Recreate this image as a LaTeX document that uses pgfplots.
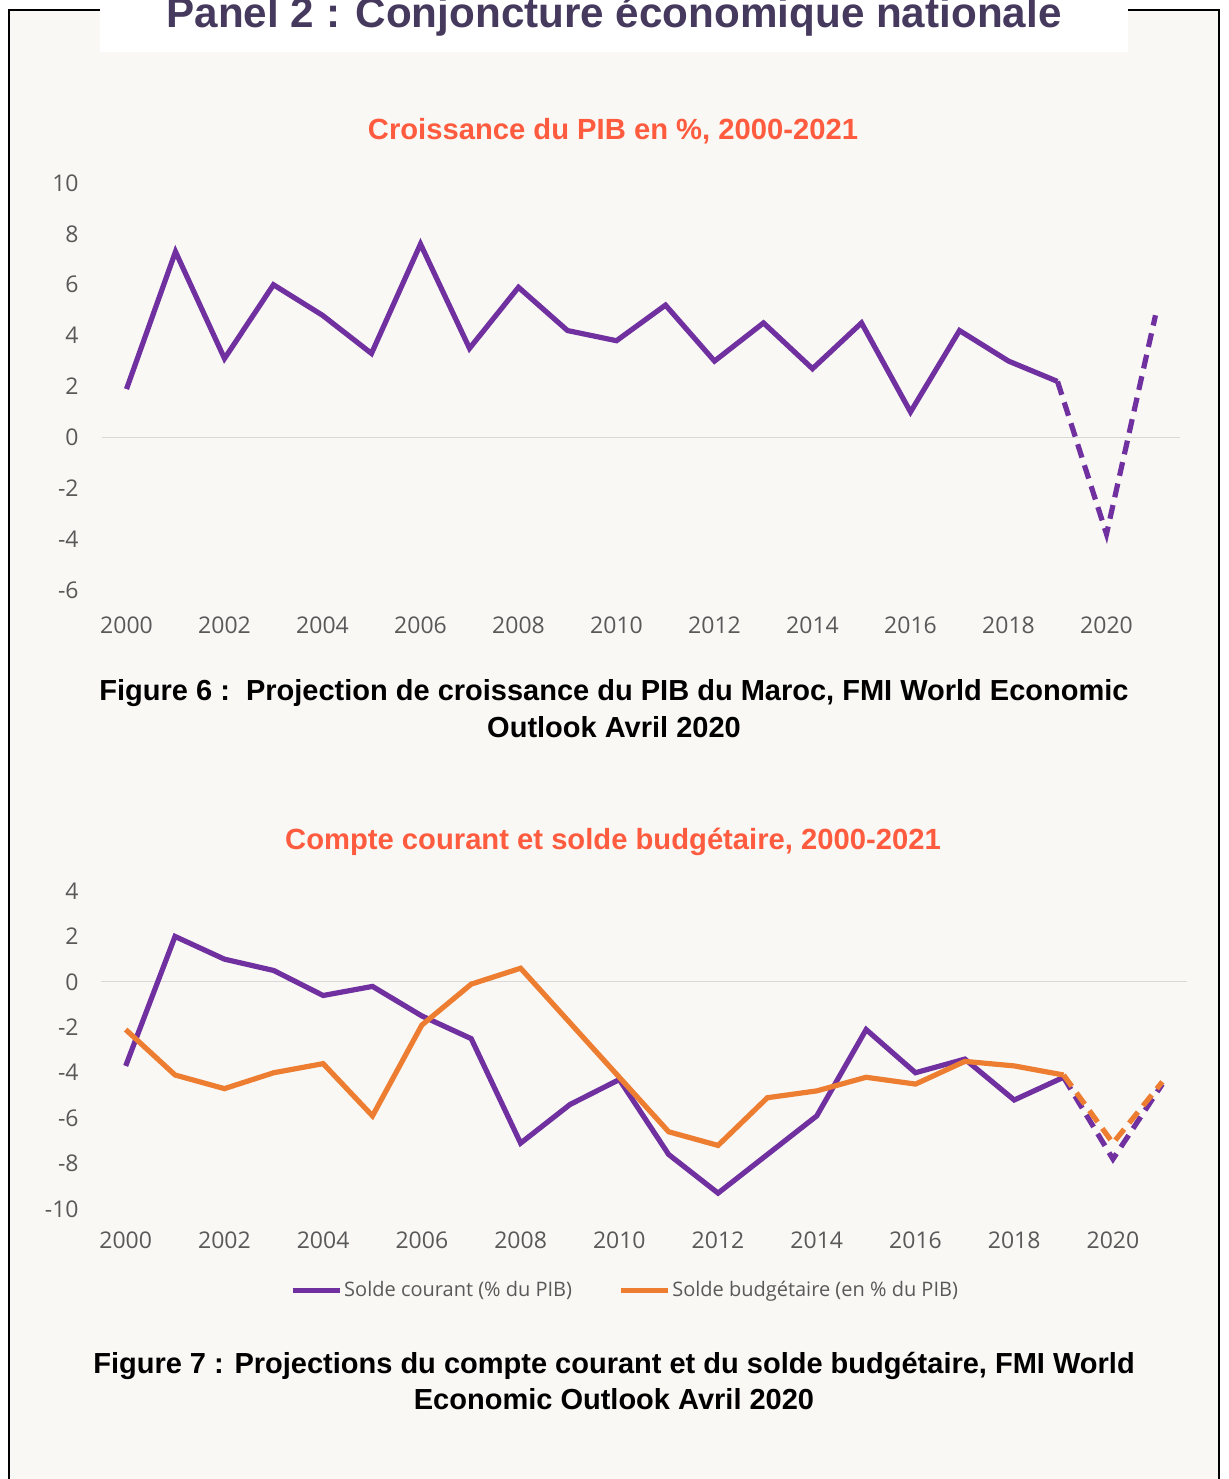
\documentclass[border=0pt]{standalone}
\usepackage{pgfplots}
\pgfplotsset{compat=1.18}
\usepackage{fontspec}
\setmainfont{Open Sans}
\newfontfamily\arialb{Liberation Sans}[BoldFont={Liberation Sans Bold}]
\definecolor{cpurple}{HTML}{7030A0}
\definecolor{corange}{HTML}{ED7D31}
\definecolor{ccoral}{HTML}{FF5B3F}
\definecolor{ctitle}{HTML}{46395E}
\definecolor{ctick}{HTML}{595959}
\definecolor{cbg}{HTML}{F9F8F5}
\definecolor{czero}{HTML}{D9D9D9}
\pgfplotstableread{
year gdp
2000 1.9
2001 7.3
2002 3.1
2003 6.0
2004 4.8
2005 3.3
2006 7.6
2007 3.5
2008 5.9
2009 4.2
2010 3.8
2011 5.2
2012 3.0
2013 4.5
2014 2.7
2015 4.5
2016 1.0
2017 4.2
2018 3.0
2019 2.2
}\gdpobs
\pgfplotstableread{
year gdp
2019 2.2
2020 -3.8
2021 4.8
}\gdpproj
\pgfplotstableread{
year cc bud
2000 -3.7 -2.1
2001 2.0 -4.1
2002 1.0 -4.7
2003 0.5 -4.0
2004 -0.6 -3.6
2005 -0.2 -5.9
2006 -1.5 -1.9
2007 -2.5 -0.1
2008 -7.1 0.6
2009 -5.4 -1.8
2010 -4.3 -4.2
2011 -7.6 -6.6
2012 -9.3 -7.2
2013 -7.6 -5.1
2014 -5.9 -4.8
2015 -2.1 -4.2
2016 -4.0 -4.5
2017 -3.4 -3.5
2018 -5.2 -3.7
2019 -4.2 -4.1
}\balobs
\pgfplotstableread{
year cc bud
2019 -4.2 -4.1
2020 -7.8 -7.1
2021 -4.5 -4.4
}\balproj
\pgfplotsset{
  myaxis/.style={
    scale only axis,
    axis line style={draw=none},
    tick style={draw=none},
    xmin=1999.5, xmax=2021.5,
    xtick={2000,2002,...,2020},
    xticklabels={2000,2002,2004,2006,2008,2010,2012,2014,2016,2018,2020},
    tick label style={font=\fontsize{11.5}{13}\selectfont, text=ctick, inner sep=0pt},
    clip=false,
  }
}
\begin{document}
\begin{tikzpicture}
\clip (0,0) rectangle (614.5pt,-739.5pt);
\begin{scope}[x=0.5pt,y=-0.5pt]
  \fill[white] (0,0) rectangle (1229,1479);
  \fill[cbg] (9,10) rectangle (1219,1479);
  \draw[black, line width=0.9pt] (9,1479) -- (9,10) -- (1219,10) -- (1219,1479);
  \fill[white] (100,0) rectangle (1128,52);
  \node[anchor=base, inner sep=0pt, text=ctitle] at (614,27)
    {\arialb\bfseries\fontsize{21.1}{24}\selectfont Panel 2 : Conjoncture économique nationale};
  \node[anchor=base, inner sep=0pt, text=ccoral] at (613,139)
    {\arialb\bfseries\fontsize{14.6}{17}\selectfont Croissance du PIB en \%, 2000-2021};
  \node[anchor=base, inner sep=0pt, text=ccoral] at (613,849)
    {\arialb\bfseries\fontsize{14.6}{17}\selectfont Compte courant et solde budgétaire, 2000-2021};
  \node[anchor=base, inner sep=0pt, text=black] at (614,700)
    {\arialb\bfseries\fontsize{14.5}{17}\selectfont Figure 6 :\ \ Projection de croissance du PIB du Maroc, FMI World Economic};
  \node[anchor=base, inner sep=0pt, text=black] at (614,737)
    {\arialb\bfseries\fontsize{14.5}{17}\selectfont Outlook Avril 2020};
  \node[anchor=base, inner sep=0pt, text=black] at (614,1373)
    {\arialb\bfseries\fontsize{14.5}{17}\selectfont Figure 7 : Projections du compte courant et du solde budgétaire, FMI World};
  \node[anchor=base, inner sep=0pt, text=black] at (614,1409)
    {\arialb\bfseries\fontsize{14.5}{17}\selectfont Economic Outlook Avril 2020};
\end{scope}
% Chart 1
\begin{axis}[myaxis,
  at={(51pt,-295pt)}, anchor=south west,
  width=539pt, height=203.5pt,
  ymin=-6, ymax=10,
  ytick={-6,-4,...,10},
  yticklabels={-6,-4,-2,0,2,4,6,8,10},
  yticklabel style={anchor=east, xshift=-11.5pt},
  xticklabel style={anchor=north, yshift=-13pt},
]
\draw[czero, line width=0.6pt] (axis cs:1999.5,0) -- (axis cs:2021.5,0);
\addplot[cpurple, line width=2.6pt] table[x=year,y=gdp] {\gdpobs};
\addplot[cpurple, line width=2.6pt, dash pattern=on 7pt off 4pt] table[x=year,y=gdp] {\gdpproj};
\end{axis}
% Chart 2
\begin{axis}[myaxis,
  at={(50.5pt,-604.5pt)}, anchor=south west,
  width=543pt, height=159pt,
  ymin=-10, ymax=4,
  ytick={-10,-8,...,4},
  yticklabels={-10,-8,-6,-4,-2,0,2,4},
  yticklabel style={anchor=east, xshift=-11pt},
  xticklabel style={anchor=north, yshift=-11.3pt},
  legend style={at={(0.4825,-0.255)}, anchor=center, draw=none, fill=none,
    legend columns=2, font=\fontsize{10}{12}\selectfont, text=ctick,
    /tikz/every even column/.append style={column sep=22pt},
    nodes={inner sep=1pt}},
  legend cell align=left,
]
\draw[czero, line width=0.6pt] (axis cs:1999.5,0) -- (axis cs:2021.5,0);
\addplot[cpurple, line width=2.6pt,
  legend image code/.code={\draw[cpurple, line width=2.6pt] (0pt,0pt) -- (23.5pt,0pt);}]
  table[x=year,y=cc] {\balobs};
\addlegendentry{Solde courant (\% du PIB)}
\addplot[corange, line width=2.6pt,
  legend image code/.code={\draw[corange, line width=2.6pt] (0pt,0pt) -- (23.5pt,0pt);}]
  table[x=year,y=bud] {\balobs};
\addlegendentry{Solde budgétaire (en \% du PIB)}
\addplot[cpurple, line width=2.6pt, dash pattern=on 7pt off 4pt, forget plot] table[x=year,y=cc] {\balproj};
\addplot[corange, line width=2.6pt, dash pattern=on 7pt off 4pt, forget plot] table[x=year,y=bud] {\balproj};
\end{axis}
\end{tikzpicture}
\end{document}
